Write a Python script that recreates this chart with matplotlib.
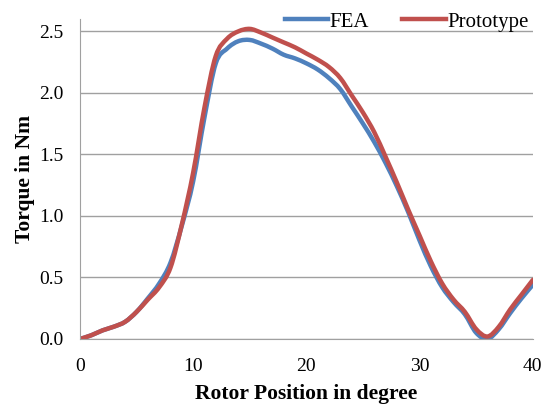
import matplotlib.pyplot as plt
from matplotlib.path import Path
from matplotlib.patches import PathPatch
from matplotlib.lines import Line2D

# rotor position (degree) and torque (Nm)
position = list(range(0, 41))
fea = [0.00, 0.03, 0.07, 0.10, 0.14, 0.22, 0.33, 0.45, 0.62, 0.92,
       1.28, 1.80, 2.24, 2.36, 2.42, 2.43, 2.40, 2.36, 2.31, 2.28,
       2.24, 2.19, 2.12, 2.03, 1.89, 1.75, 1.60, 1.43, 1.24, 1.03,
       0.80, 0.59, 0.42, 0.30, 0.20, 0.05, 0.00, 0.08, 0.21, 0.33,
       0.44]
prototype = [0.00, 0.03, 0.07, 0.10, 0.14, 0.22, 0.32, 0.42, 0.58, 0.93,
             1.35, 1.88, 2.30, 2.44, 2.50, 2.52, 2.49, 2.45, 2.41, 2.37,
             2.32, 2.27, 2.21, 2.12, 1.98, 1.84, 1.68, 1.48, 1.27, 1.05,
             0.84, 0.63, 0.45, 0.32, 0.22, 0.08, 0.02, 0.10, 0.24, 0.36,
             0.48]
xticks = [0, 10, 20, 30, 40]
yticks = [0.0, 0.5, 1.0, 1.5, 2.0, 2.5]

blue = '#4F81BD'
red = '#C0504D'


def smooth_path(x, y):
    # Excel-style smoothed line: bezier segments through every point
    n = len(x)
    verts = [(x[0], y[0])]
    codes = [Path.MOVETO]
    for i in range(n - 1):
        a = max(i - 1, 0)
        b = min(i + 2, n - 1)
        c1 = (x[i] + (x[i + 1] - x[a]) / 6, y[i] + (y[i + 1] - y[a]) / 6)
        c2 = (x[i + 1] - (x[b] - x[i]) / 6, y[i + 1] - (y[b] - y[i]) / 6)
        verts += [c1, c2, (x[i + 1], y[i + 1])]
        codes += [Path.CURVE4] * 3
    return Path(verts, codes)


plt.rcParams['font.family'] = ['Liberation Serif', 'DejaVu Serif']

fig = plt.figure(figsize=(5.51, 4.05), dpi=100)
ax = fig.add_axes([0.145, 0.163, 0.822, 0.79])

for series, col in [(fea, blue), (prototype, red)]:
    ax.add_patch(PathPatch(smooth_path(position, series), fill=False,
                           edgecolor=col, lw=3.2, capstyle='round', joinstyle='round'))

ax.set_xlim(0, 40)
ax.set_ylim(0, 2.6)
ax.set_xticks(xticks)
ax.set_yticks(yticks)
ax.set_yticklabels([f"{v:.1f}" for v in yticks])
ax.tick_params(length=0, labelsize=14)
ax.tick_params(axis='x', pad=14)
ax.tick_params(axis='y', pad=12)
ax.yaxis.grid(True, color='#A0A0A0', lw=1)
ax.set_axisbelow(True)
for s in ['top', 'right']:
    ax.spines[s].set_visible(False)
for s in ['left', 'bottom']:
    ax.spines[s].set_color('#A0A0A0')

ax.set_xlabel('Rotor Position in degree', fontsize=15.5, fontweight='bold', labelpad=6)
ax.set_ylabel('Torque in Nm', fontsize=15.5, fontweight='bold', labelpad=3)

handles = [Line2D([], [], color=blue, lw=3.2), Line2D([], [], color=red, lw=3.2)]
fig.legend(handles, ['FEA', 'Prototype'], loc='center', bbox_to_anchor=(0.738, 0.946),
           ncol=2, frameon=False, fontsize=15, handlelength=2.1, handletextpad=0.05,
           columnspacing=1.6, borderpad=0, borderaxespad=0)

fig.savefig('out.png')
